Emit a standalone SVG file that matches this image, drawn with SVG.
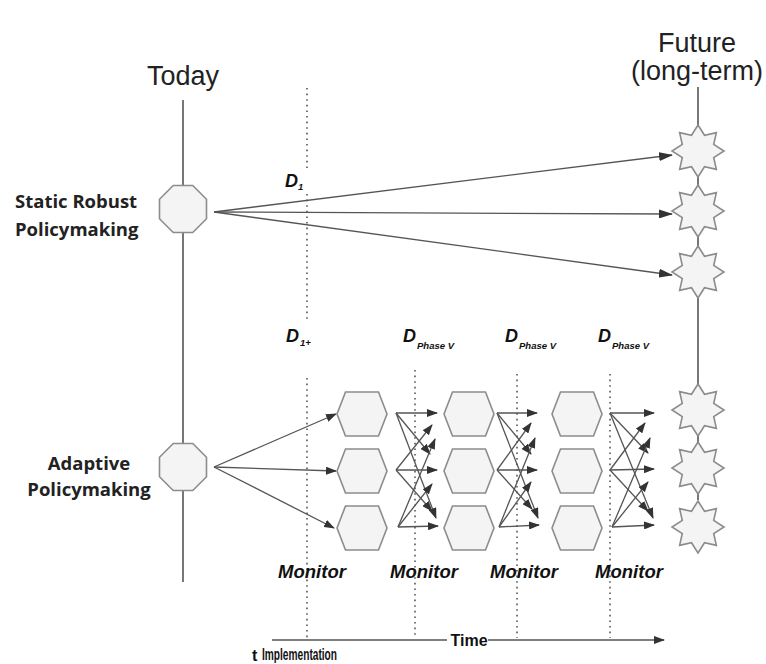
<svg xmlns="http://www.w3.org/2000/svg" width="766" height="664" viewBox="0 0 766 664">
  <style>
    .axis { stroke: #777; stroke-width: 2; fill: none; }
    .dots { stroke: #555; stroke-width: 1.6; stroke-dasharray: 1.6 4; fill: none; }
    .conn { stroke: #555; stroke-width: 1.3; fill: none; }
    .shape { stroke: #8c8c8c; stroke-width: 1.6; fill: #f4f4f4; }
    .head { font-family: "Liberation Sans", Arial, sans-serif; font-size: 27px; fill: #222; }
    .lbl { font-family: "Open Sans", "Liberation Sans", sans-serif; font-weight: bold; font-size: 18.5px; fill: #222; }
    .dlab { font-family: "Liberation Sans", Arial, sans-serif; font-weight: bold; font-style: italic; font-size: 18px; fill: #111; }
    .dsub { font-family: "Liberation Sans", Arial, sans-serif; font-weight: bold; font-style: italic; font-size: 9.5px; fill: #111; }
    .mon { font-family: "Liberation Sans", Arial, sans-serif; font-weight: bold; font-style: italic; font-size: 18.5px; fill: #111; }
    .time { font-family: "Liberation Sans", Arial, sans-serif; font-weight: bold; font-size: 16px; fill: #111; }
  </style>
  <defs>
    <marker id="arr" markerUnits="userSpaceOnUse" markerWidth="11" markerHeight="8" refX="10" refY="4" orient="auto">
      <path d="M0,0 L11,4 L0,8 z" fill="#333"/>
    </marker>
    <marker id="arrBig" markerUnits="userSpaceOnUse" markerWidth="14" markerHeight="9" refX="13" refY="4.5" orient="auto">
      <path d="M0,0 L14,4.5 L0,9 z" fill="#333"/>
    </marker>
    <polygon id="oct" points="-9.75,-23.5 9.75,-23.5 23.5,-9.75 23.5,9.75 9.75,23.5 -9.75,23.5 -23.5,9.75 -23.5,-9.75"/>
    <polygon id="hex" points="-25,0 -16.5,-22 16.5,-22 25,0 16.5,22 -16.5,22"/>
    <polygon id="star" points="0,-26 6.51,-15.71 18.38,-18.38 15.71,-6.51 26,0 15.71,6.51 18.38,18.38 6.51,15.71 0,26 -6.51,15.71 -18.38,18.38 -15.71,6.51 -26,0 -15.71,-6.51 -18.38,-18.38 -6.51,-15.71"/>
  </defs>

  <rect width="766" height="664" fill="#fff"/>

  <!-- timelines: today and future -->
  <g id="timelines">
    <line class="axis" x1="183" y1="100" x2="183" y2="582"/>
    <line class="axis" x1="698" y1="87" x2="698" y2="500"/>
  </g>

  <!-- decision / monitoring moments -->
  <g id="decision-lines">
    <line class="dots" x1="307" y1="88" x2="307" y2="170"/>
    <line class="dots" x1="307" y1="194" x2="307" y2="322"/>
    <line class="dots" x1="307" y1="378" x2="307" y2="638"/>
    <line class="dots" x1="415" y1="370" x2="415" y2="638"/>
    <line class="dots" x1="517" y1="374" x2="517" y2="638"/>
    <line class="dots" x1="610" y1="374" x2="610" y2="638"/>
  </g>

  <!-- headings -->
  <g id="today-label">
    <text class="head" x="183" y="85" text-anchor="middle">Today</text>
  </g>
  <g id="future-label">
    <text class="head" x="697" y="52" text-anchor="middle">Future</text>
    <text class="head" x="697" y="80" text-anchor="middle">(long-term)</text>
  </g>

  <g id="static-label">
    <text class="lbl" x="15" y="208">Static Robust</text>
    <text class="lbl" x="15" y="236">Policymaking</text>
  </g>
  <g id="adaptive-label">
    <text class="lbl" x="89" y="470" text-anchor="middle">Adaptive</text>
    <text class="lbl" x="89" y="496" text-anchor="middle">Policymaking</text>
  </g>

  <!-- connectors -->
  <g id="connectors">
    <!-- static robust policy: one decision, three futures -->
    <line class="conn" stroke-width="1.6" x1="214" y1="212" x2="672" y2="155" marker-end="url(#arrBig)"/>
    <line class="conn" stroke-width="1.6" x1="214" y1="212" x2="672" y2="214" marker-end="url(#arrBig)"/>
    <line class="conn" stroke-width="1.6" x1="214" y1="212" x2="672" y2="275" marker-end="url(#arrBig)"/>

    <!-- adaptive policy: initial actions -->
    <line class="conn" x1="214" y1="467" x2="336" y2="414" marker-end="url(#arr)"/>
    <line class="conn" x1="214" y1="467" x2="336" y2="471" marker-end="url(#arr)"/>
    <line class="conn" x1="214" y1="467" x2="334" y2="528" marker-end="url(#arr)"/>

    <!-- adaptation after first monitoring -->
    <line class="conn" x1="396" y1="413" x2="437" y2="413" marker-end="url(#arr)"/>
    <line class="conn" x1="396" y1="413" x2="430" y2="454" marker-end="url(#arr)"/>
    <line class="conn" x1="396" y1="413" x2="436" y2="518" marker-end="url(#arr)"/>
    <line class="conn" x1="396" y1="470" x2="432" y2="425" marker-end="url(#arr)"/>
    <line class="conn" x1="396" y1="470" x2="437" y2="470" marker-end="url(#arr)"/>
    <line class="conn" x1="396" y1="470" x2="432" y2="511" marker-end="url(#arr)"/>
    <line class="conn" x1="398" y1="527" x2="435" y2="439" marker-end="url(#arr)"/>
    <line class="conn" x1="398" y1="527" x2="432" y2="484" marker-end="url(#arr)"/>
    <line class="conn" x1="398" y1="527" x2="438" y2="526" marker-end="url(#arr)"/>

    <!-- adaptation after second monitoring -->
    <line class="conn" x1="497" y1="413" x2="537" y2="413" marker-end="url(#arr)"/>
    <line class="conn" x1="497" y1="413" x2="531" y2="454" marker-end="url(#arr)"/>
    <line class="conn" x1="497" y1="413" x2="538" y2="518" marker-end="url(#arr)"/>
    <line class="conn" x1="497" y1="470" x2="531" y2="423" marker-end="url(#arr)"/>
    <line class="conn" x1="497" y1="470" x2="537" y2="470" marker-end="url(#arr)"/>
    <line class="conn" x1="497" y1="470" x2="532" y2="509" marker-end="url(#arr)"/>
    <line class="conn" x1="499" y1="527" x2="535" y2="438" marker-end="url(#arr)"/>
    <line class="conn" x1="499" y1="527" x2="531" y2="482" marker-end="url(#arr)"/>
    <line class="conn" x1="499" y1="527" x2="539" y2="525" marker-end="url(#arr)"/>

    <!-- adaptation after third monitoring -->
    <line class="conn" x1="610" y1="413" x2="654" y2="413" marker-end="url(#arr)"/>
    <line class="conn" x1="610" y1="413" x2="648" y2="453" marker-end="url(#arr)"/>
    <line class="conn" x1="610" y1="413" x2="653" y2="518" marker-end="url(#arr)"/>
    <line class="conn" x1="610" y1="470" x2="645" y2="423" marker-end="url(#arr)"/>
    <line class="conn" x1="610" y1="470" x2="654" y2="469" marker-end="url(#arr)"/>
    <line class="conn" x1="610" y1="470" x2="648" y2="511" marker-end="url(#arr)"/>
    <line class="conn" x1="612" y1="527" x2="650" y2="438" marker-end="url(#arr)"/>
    <line class="conn" x1="612" y1="527" x2="648" y2="482" marker-end="url(#arr)"/>
    <line class="conn" x1="612" y1="527" x2="654" y2="525" marker-end="url(#arr)"/>
  </g>

  <!-- policy starting points -->
  <g id="static-node"><use href="#oct" class="shape" x="183" y="209"/></g>
  <g id="adaptive-node"><use href="#oct" class="shape" x="183" y="467"/></g>

  <!-- adaptive action options -->
  <g id="hex-1-1"><use href="#hex" class="shape" x="362" y="414"/></g>
  <g id="hex-1-2"><use href="#hex" class="shape" x="362" y="471"/></g>
  <g id="hex-1-3"><use href="#hex" class="shape" x="362" y="528"/></g>
  <g id="hex-2-1"><use href="#hex" class="shape" x="469" y="414"/></g>
  <g id="hex-2-2"><use href="#hex" class="shape" x="469" y="471"/></g>
  <g id="hex-2-3"><use href="#hex" class="shape" x="469" y="528"/></g>
  <g id="hex-3-1"><use href="#hex" class="shape" x="577" y="414"/></g>
  <g id="hex-3-2"><use href="#hex" class="shape" x="577" y="471"/></g>
  <g id="hex-3-3"><use href="#hex" class="shape" x="577" y="528"/></g>

  <!-- possible futures -->
  <g id="future-1"><use href="#star" class="shape" x="698" y="151"/></g>
  <g id="future-2"><use href="#star" class="shape" x="698" y="211"/></g>
  <g id="future-3"><use href="#star" class="shape" x="698" y="272"/></g>
  <g id="future-4"><use href="#star" class="shape" x="698" y="410"/></g>
  <g id="future-5"><use href="#star" class="shape" x="698" y="468"/></g>
  <g id="future-6"><use href="#star" class="shape" x="698" y="527"/></g>

  <!-- decision labels -->
  <g id="decision-labels">
    <text class="dlab" x="285" y="187">D</text><text class="dsub" x="298" y="190">1</text>
    <text class="dlab" x="286" y="342">D</text><text class="dsub" x="300" y="346">1+</text>
    <text class="dlab" x="403" y="342">D</text><text class="dsub" x="417" y="349">Phase V</text>
    <text class="dlab" x="505" y="342">D</text><text class="dsub" x="519" y="349">Phase V</text>
    <text class="dlab" x="598" y="342">D</text><text class="dsub" x="612" y="349">Phase V</text>
  </g>

  <!-- monitoring labels -->
  <g id="monitor-labels">
    <text class="mon" x="312" y="578" text-anchor="middle">Monitor</text>
    <text class="mon" x="424" y="578" text-anchor="middle">Monitor</text>
    <text class="mon" x="524" y="578" text-anchor="middle">Monitor</text>
    <text class="mon" x="629" y="578" text-anchor="middle">Monitor</text>
  </g>

  <!-- time axis -->
  <g id="time-axis">
    <line class="conn" stroke="#666" x1="272" y1="640" x2="447" y2="640"/>
    <line class="conn" stroke="#666" x1="488" y1="640" x2="664" y2="640" marker-end="url(#arr)"/>
    <text class="time" x="469" y="646" text-anchor="middle">Time</text>
    <text class="time" x="252" y="661" font-size="14">t</text>
    <text class="time" x="262" y="660" font-size="8.5" textLength="75" lengthAdjust="spacingAndGlyphs">Implementation</text>
  </g>
</svg>
